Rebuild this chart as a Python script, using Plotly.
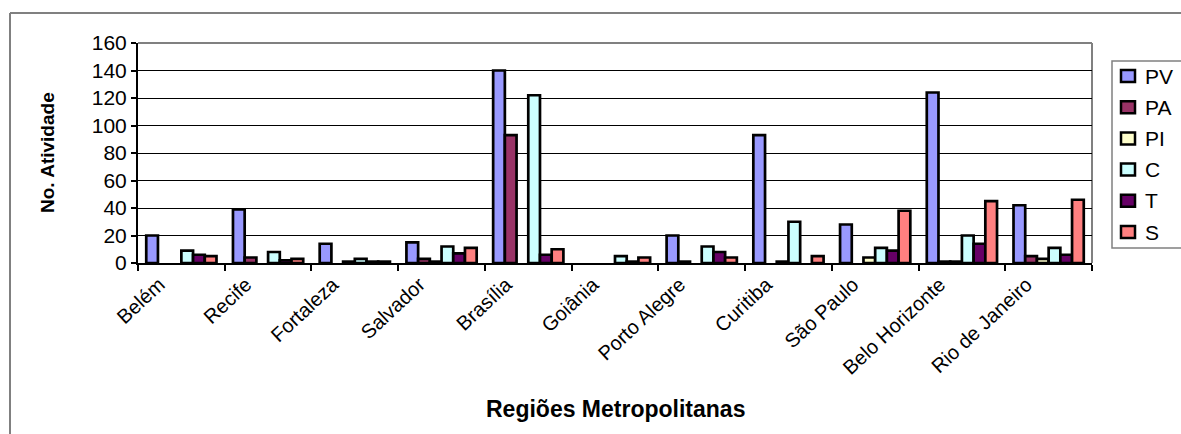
import plotly.graph_objects as go

regions = ["Belém", "Recife", "Fortaleza", "Salvador", "Brasília", "Goiânia",
           "Porto Alegre", "Curitiba", "São Paulo", "Belo Horizonte", "Rio de Janeiro"]

pv = [20, 39, 14, 15, 140, 0, 20, 93, 28, 124, 42]
pa = [0, 4, 0, 3, 93, 0, 1, 0, 0, 1, 5]
pi = [0, 0, 1, 1, 0, 0, 0, 1, 4, 1, 3]
c = [9, 8, 3, 12, 122, 5, 12, 30, 11, 20, 11]
t = [6, 2, 1, 7, 6, 1, 8, 0, 9, 14, 6]
s = [5, 3, 1, 11, 10, 4, 4, 5, 38, 45, 46]

series_names = ["PV", "PA", "PI", "C", "T", "S"]
series_values = [pv, pa, pi, c, t, s]
series_colors = ["#9999FF", "#993366", "#FFFFCC", "#CCFFFF", "#660066", "#FF8080"]

FONT = "Liberation Sans, Arial, sans-serif"

# plot area in pixels: x 138..1092, y 43..263
L, R, T, B = 138, 1092, 43, 263
W, H = 1181, 434


def px(x):
    return (x - L) / (R - L)


def py(y):
    return (B - y) / (B - T)


fig = go.Figure()
for name, vals, color in zip(series_names, series_values, series_colors):
    # empty categories draw nothing
    fig.add_trace(go.Bar(
        name=name, x=regions, y=[v if v else None for v in vals],
        marker=dict(color=color, line=dict(color="black", width=2.7)),
        showlegend=False,
    ))

shapes = [
    # plot-area frame (top and right edges)
    dict(type="line", xref="paper", yref="paper", x0=0, x1=1, y0=1, y1=1,
         line=dict(color="#808080", width=2), layer="below"),
    dict(type="line", xref="paper", yref="paper", x0=1, x1=1, y0=0, y1=1,
         line=dict(color="#808080", width=2), layer="below"),
    # outer chart frame
    dict(type="line", xref="paper", yref="paper",
         x0=px(10), x1=px(1250), y0=py(13), y1=py(13),
         line=dict(color="#808080", width=2)),
    dict(type="line", xref="paper", yref="paper",
         x0=px(10), x1=px(10), y0=py(13), y1=py(500),
         line=dict(color="#808080", width=2)),
    # legend box
    dict(type="rect", xref="paper", yref="paper",
         x0=px(1112), x1=px(1250), y0=py(248), y1=py(61),
         line=dict(color="#808080", width=1.5), fillcolor="white"),
]

annotations = [
    dict(text="<b>No. Atividade</b>", textangle=-90,
         xref="paper", yref="paper", x=px(47), y=0.5,
         xanchor="center", yanchor="middle", showarrow=False,
         font=dict(size=19, family=FONT, color="black")),
    dict(text="<b>Regiões Metropolitanas</b>",
         xref="paper", yref="paper", x=0.5, y=py(409),
         xanchor="center", yanchor="middle", showarrow=False,
         font=dict(size=23, family=FONT, color="black")),
]

# legend entries
for i, (name, color) in enumerate(zip(series_names, series_colors)):
    yc = 76 + i * 31.2
    shapes.append(dict(type="rect", xref="paper", yref="paper",
                       x0=px(1121), x1=px(1135), y0=py(yc + 6), y1=py(yc - 6),
                       line=dict(color="black", width=2.5), fillcolor=color))
    annotations.append(dict(text=name, xref="paper", yref="paper",
                            x=px(1143), y=py(yc), xanchor="left", yanchor="middle",
                            showarrow=False,
                            font=dict(size=21, family=FONT, color="black")))

fig.update_layout(
    width=W, height=H,
    margin=dict(l=L, r=W - R, t=T, b=H - B),
    paper_bgcolor="white", plot_bgcolor="white",
    barmode="group", bargap=0.19, bargroupgap=0,
    font=dict(family=FONT, color="black"),
    showlegend=False,
    xaxis=dict(
        type="category", tickson="boundaries",
        ticks="outside", ticklen=6, tickwidth=1.5, tickcolor="black",
        showline=True, linecolor="black", linewidth=2,
        tickangle=-43, ticklabelshift=-22,
        tickfont=dict(size=20, family=FONT, color="black"),
        showgrid=False, zeroline=False,
    ),
    yaxis=dict(
        range=[0, 160], dtick=20,
        ticks="outside", ticklen=5, tickwidth=1.5, tickcolor="black",
        showline=True, linecolor="black", linewidth=2,
        showgrid=True, gridcolor="black", gridwidth=1.3,
        zeroline=False,
        tickfont=dict(size=21, family=FONT, color="black"),
    ),
    annotations=annotations,
    shapes=shapes,
)

fig.write_html("out.html")
